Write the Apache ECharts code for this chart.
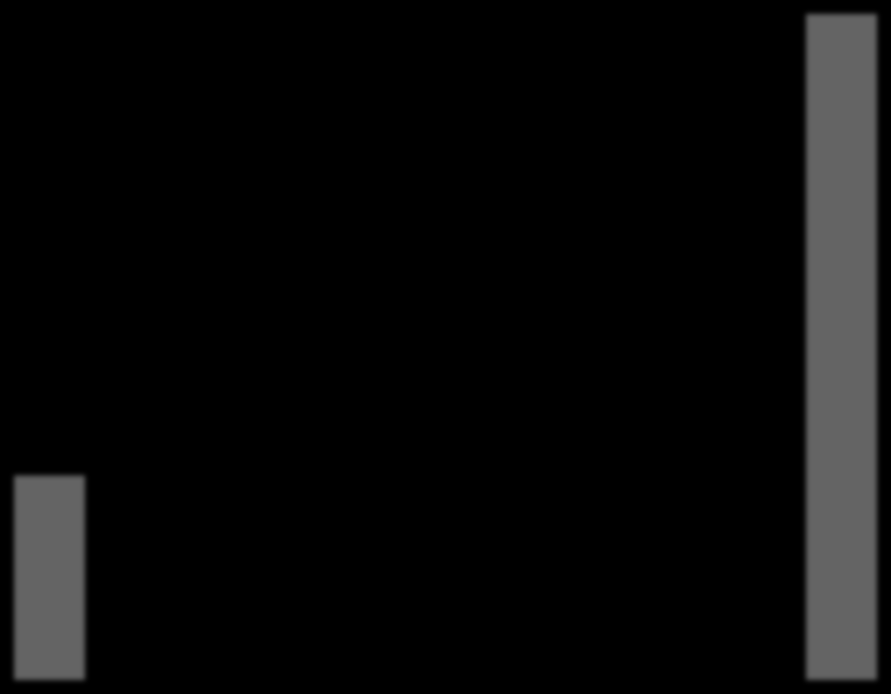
<!DOCTYPE html>
<html>
<head>
<meta charset="utf-8">
<style>
html,body{margin:0;padding:0;background:#000;overflow:hidden;}
#chart{width:891px;height:694px;filter:blur(2.5px);}
</style>
<script src="https://cdn.jsdelivr.net/npm/echarts@6/dist/echarts.min.js"></script>
</head>
<body>
<div id="chart"></div>
<script>
const categories = ['1','2','3','4','5','6','7','8','9','10','11','12'];
const values = [30.7, null, null, null, null, null, null, null, null, null, null, 100];
const yMax = 100;

const chart = echarts.init(document.getElementById('chart'));
chart.setOption({
  backgroundColor: '#000000',
  animation: false,
  grid: { left: 13.5, right: 13.5, top: 14, bottom: 14, containLabel: false },
  xAxis: {
    type: 'category', data: categories, show: false
  },
  yAxis: {
    type: 'value', min: 0, max: yMax, show: false, splitLine: { show: false }
  },
  series: [{
    type: 'bar',
    data: values,
    barCategoryGap: '1.5%',
    itemStyle: { color: '#646464' }
  }]
});
</script>
</body>
</html>
